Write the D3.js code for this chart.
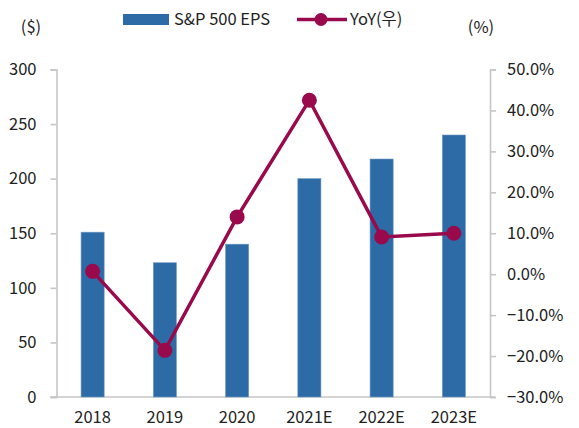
<!DOCTYPE html>
<html>
<head>
<meta charset="utf-8">
<script src="https://cdn.jsdelivr.net/npm/d3@7"></script>
<style>
  body { margin: 0; background: #fff; }
  svg text { font-family: "Noto Sans CJK KR", "Noto Sans", sans-serif; fill: #222; }
</style>
</head>
<body>
<div id="chart"></div>
<script>
// data
const years = ["2018", "2019", "2020", "2021E", "2022E", "2023E"];
const eps = [151, 123, 140, 200, 218, 240];
const yoy = [0.7, -18.6, 14.0, 42.5, 9.1, 10.0];
const leftTicks = [0, 50, 100, 150, 200, 250, 300];
const rightTicks = [-30, -20, -10, 0, 10, 20, 30, 40, 50];

const W = 579, H = 428;
const margin = { top: 69.5, bottom: 31, left: 56.5, right: 89 };
const fs = "16.5px";

const svg = d3.select("#chart").append("svg")
  .attr("width", W)
  .attr("height", H);

const x = d3.scaleBand()
  .domain(years)
  .range([margin.left, W - margin.right])
  .paddingInner(0.68)
  .paddingOuter(0.34);

const yL = d3.scaleLinear().domain([0, 300]).range([H - margin.bottom, margin.top]);
const yR = d3.scaleLinear().domain([-30, 50]).range([H - margin.bottom, margin.top]);

const axisColor = "#c6c6c6";
const barColor = "#2c6ba6";
const lineColor = "#990a4c";

// left axis
const gL = svg.append("g")
  .attr("transform", `translate(${margin.left},0)`)
  .call(d3.axisLeft(yL).tickValues(leftTicks).tickSize(6).tickPadding(14));
// right axis
const gR = svg.append("g")
  .attr("transform", `translate(${W - margin.right},0)`)
  .call(d3.axisRight(yR).tickValues(rightTicks).tickSize(6).tickPadding(11)
    .tickFormat(d => (d < 0 ? "\u2212" + Math.abs(d).toFixed(1) : d.toFixed(1)) + "%"));

[gL, gR].forEach(g => {
  g.selectAll("path, line").attr("stroke", axisColor).attr("stroke-width", 1.6);
  g.selectAll("text").style("font-size", fs).attr("fill", "#222");
});

// x baseline
svg.append("line")
  .attr("x1", margin.left - 6).attr("x2", W - margin.right + 5)
  .attr("y1", yL(0)).attr("y2", yL(0))
  .attr("stroke", axisColor).attr("stroke-width", 1.6);

// bars
svg.append("g").selectAll("rect")
  .data(eps)
  .join("rect")
    .attr("x", (d, i) => x(years[i]))
    .attr("width", x.bandwidth())
    .attr("y", d => yL(d))
    .attr("height", d => yL(0) - yL(d))
    .attr("fill", barColor)
    .attr("stroke", "#6f9cc7")
    .attr("stroke-width", 0.6);

// category labels
svg.append("g").selectAll("text")
  .data(years)
  .join("text")
    .attr("x", d => x(d) + x.bandwidth() / 2)
    .attr("y", 423)
    .attr("text-anchor", "middle")
    .style("font-size", fs)
    .text(d => d);

// yoy line
const line = d3.line()
  .x((d, i) => x(years[i]) + x.bandwidth() / 2)
  .y(d => yR(d));

svg.append("path")
  .datum(yoy)
  .attr("d", line)
  .attr("fill", "none")
  .attr("stroke", lineColor)
  .attr("stroke-width", 3.5);

svg.append("g").selectAll("circle")
  .data(yoy)
  .join("circle")
    .attr("cx", (d, i) => x(years[i]) + x.bandwidth() / 2)
    .attr("cy", d => yR(d))
    .attr("r", 7.5)
    .attr("fill", lineColor);

// unit labels
svg.append("text").attr("x", 31).attr("y", 33).attr("text-anchor", "middle")
  .style("font-size", fs).text("($)");
svg.append("text").attr("x", 481).attr("y", 33).attr("text-anchor", "middle")
  .style("font-size", fs).text("(%)");

// legend
const lg = svg.append("g");
lg.append("rect").attr("x", 123).attr("y", 14).attr("width", 46).attr("height", 11).attr("fill", barColor);
lg.append("text").attr("x", 174).attr("y", 25).style("font-size", fs).text("S&P 500 EPS");
lg.append("line").attr("x1", 297).attr("x2", 347).attr("y1", 19.5).attr("y2", 19.5)
  .attr("stroke", lineColor).attr("stroke-width", 3.5);
lg.append("circle").attr("cx", 321).attr("cy", 19.5).attr("r", 6.5).attr("fill", lineColor);
lg.append("text").attr("x", 350).attr("y", 25).style("font-size", fs).text("YoY(우)");
</script>
</body>
</html>
